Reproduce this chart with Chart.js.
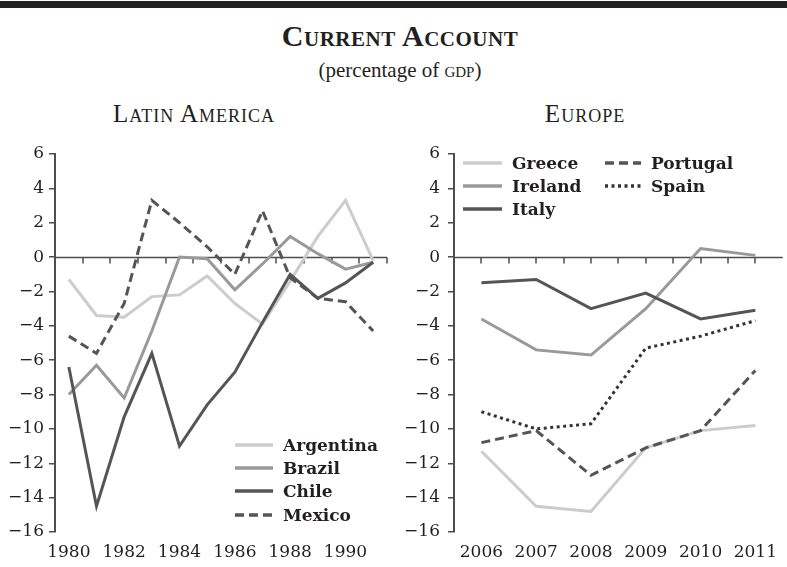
<!DOCTYPE html>
<html>
<head>
<meta charset="utf-8">
<script src="https://cdn.jsdelivr.net/npm/chart.js@4.4.0/dist/chart.umd.min.js"></script>
<style>
  html, body { margin: 0; padding: 0; background: #fff; }
  #page { position: relative; width: 787px; height: 567px; overflow: hidden; color: #231f20; font-family: "Liberation Serif", serif; }
  .bar { position: absolute; left: 0; top: 1px; width: 787px; height: 7px; background: #231f20; }
  .head { position: absolute; text-align: center; font-variant: small-caps; white-space: nowrap; }
  .wrap { position: absolute; top: 140px; height: 427px; }
  .legend { position: absolute; font: bold 17px "DejaVu Serif", serif; color: #231f20; }
  .legend .item { display: flex; align-items: center; height: 23.3px; white-space: nowrap; }
  .legend svg { margin-right: 10px; }
</style>
</head>
<body>
<div id="page">
  <div class="bar"></div>
  <div class="head" style="left:0;width:800px;top:16px;height:40px;line-height:40px;font-weight:bold;font-size:30px;letter-spacing:0.5px;">Current Account</div>
  <div class="head" style="left:0;width:800px;top:56px;height:28px;line-height:28px;font-size:21px;font-variant:normal;">(percentage of <span style="font-variant:small-caps">gdp</span>)</div>
  <div class="head" style="left:94px;width:200px;top:99px;height:30px;line-height:30px;font-size:25px;letter-spacing:1px;">Latin America</div>
  <div class="head" style="left:485px;width:200px;top:99px;height:30px;line-height:30px;font-size:25px;letter-spacing:1px;">Europe</div>

  <div class="wrap" style="left:0;width:392px;"><canvas id="latam" width="392" height="427"></canvas></div>
  <div class="wrap" style="left:400px;width:387px;"><canvas id="europe" width="387" height="427"></canvas></div>

  <div class="legend" id="legLatam" style="left:235px;top:433px;"></div>
  <div class="legend" id="legEu1" style="left:463px;top:151px;"></div>
  <div class="legend" id="legEu2" style="left:605px;top:151px;"></div>
</div>
<script>
// Latin America, 1980-1991
const laYears = [1980, 1981, 1982, 1983, 1984, 1985, 1986, 1987, 1988, 1989, 1990, 1991];
const argentina = [-1.3, -3.4, -3.5, -2.3, -2.2, -1.1, -2.7, -3.9, -1.4, 1.2, 3.3, -0.2];
const brazil    = [-8.0, -6.3, -8.2, -4.3, 0.0, -0.1, -1.9, -0.4, 1.2, 0.2, -0.7, -0.3];
const chile     = [-6.4, -14.5, -9.3, -5.6, -11.0, -8.6, -6.7, -3.8, -1.0, -2.4, -1.5, -0.3];
const mexico    = [-4.6, -5.6, -2.7, 3.3, 2.0, 0.6, -1.0, 2.7, -1.2, -2.4, -2.6, -4.3];
const laNames = ['Argentina', 'Brazil', 'Chile', 'Mexico'];
const laYearLabels = [1980, 1982, 1984, 1986, 1988, 1990];
const laTickMarks = [1980.5, 1981.5, 1982.5, 1983.5, 1984.5, 1985.5, 1986.5, 1987.5, 1988.5, 1989.5, 1990.5, 1991.5];

// Europe, 2006-2011
const euYears = [2006, 2007, 2008, 2009, 2010, 2011];
const greece   = [-11.3, -14.5, -14.8, -11.1, -10.1, -9.8];
const ireland  = [-3.6, -5.4, -5.7, -3.0, 0.5, 0.1];
const italy    = [-1.5, -1.3, -3.0, -2.1, -3.6, -3.1];
const portugal = [-10.8, -10.1, -12.7, -11.1, -10.1, -6.6];
const spain    = [-9.0, -10.0, -9.7, -5.3, -4.6, -3.7];
const euNames = ['Greece', 'Ireland', 'Italy', 'Portugal', 'Spain'];
const euYearLabels = [2006, 2007, 2008, 2009, 2010, 2011];
const euTickMarks = [2006, 2006.5, 2007, 2007.5, 2008, 2008.5, 2009, 2009.5, 2010, 2010.5, 2011];

const yTickValues = [6, 4, 2, 0, -2, -4, -6, -8, -10, -12, -14, -16];

const TEXT = '#231f20';
const AXIS = '#4d4d4d';
const FONT = { family: '"DejaVu Serif", serif', size: 17 };
const styles = {
  light:  { color: '#cccccc', dash: [] },
  mid:    { color: '#999999', dash: [] },
  dark:   { color: '#555555', dash: [] },
  dashed: { color: '#555555', dash: [9, 5] },
  dotted: { color: '#333333', dash: [3, 3.5] }
};

// zero line with small downward tick marks, placed through the chart's own scales
function zeroAxis(marks) {
  return {
    id: 'zeroAxis',
    beforeDatasetsDraw(chart) {
      const ctx = chart.ctx, area = chart.chartArea;
      const x = chart.scales.x, y = chart.scales.y;
      const y0 = Math.round(y.getPixelForValue(0)) + 0.5;
      ctx.save();
      ctx.setLineDash([]);
      ctx.strokeStyle = AXIS;
      ctx.lineWidth = 1.5;
      ctx.beginPath();
      ctx.moveTo(area.left, y0);
      ctx.lineTo(area.right, y0);
      ctx.stroke();
      marks.forEach(v => {
        const px = Math.round(x.getPixelForValue(v));
        ctx.beginPath();
        ctx.moveTo(px, y0);
        ctx.lineTo(px, y0 + 6);
        ctx.stroke();
      });
      ctx.restore();
    }
  };
}

function yScale(pad, width) {
  return {
    min: -16, max: 6,
    afterBuildTicks: s => { s.ticks = yTickValues.map(v => ({ value: v })); },
    afterFit: s => { s.width = width; s.paddingTop = 0; s.paddingBottom = 0; },
    ticks: { color: TEXT, padding: pad, font: FONT, callback: v => v < 0 ? '\u2212' + Math.abs(v) : String(v) },
    grid: { display: true, drawOnChartArea: false, drawTicks: true, tickLength: 6, color: AXIS, lineWidth: 1.5 },
    border: { display: true, color: AXIS, width: 2 }
  };
}

function xLabelScale(min, max, labels) {
  return {
    type: 'linear', position: 'bottom', min: min, max: max,
    afterBuildTicks: s => { s.ticks = labels.map(v => ({ value: v })); },
    afterFit: s => { s.height = 35; },
    ticks: { color: TEXT, padding: 10, maxRotation: 0, autoSkip: false, font: FONT, callback: v => String(v) },
    grid: { display: false, drawTicks: false },
    border: { display: false }
  };
}

function makeDatasets(names, series, looks) {
  return names.map((name, i) => ({
    label: name,
    data: series[i],
    borderColor: styles[looks[i]].color,
    borderDash: styles[looks[i]].dash,
    borderWidth: 3,
    borderJoinStyle: 'miter',
    borderCapStyle: 'butt',
    pointRadius: 0,
    tension: 0,
    fill: false,
    order: names.length - i
  }));
}

function makeChart(id, years, datasets, xMin, xMax, yearLabels, tickMarks, yPad, yWidth, padRight) {
  return new Chart(document.getElementById(id), {
    type: 'line',
    data: { labels: years, datasets: datasets },
    plugins: [zeroAxis(tickMarks)],
    options: {
      responsive: false,
      animation: false,
      devicePixelRatio: 1,
      layout: { padding: { top: 14, right: padRight, bottom: 0, left: 0 } },
      plugins: { legend: { display: false }, tooltip: { enabled: false } },
      scales: {
        x: xLabelScale(xMin, xMax, yearLabels),
        y: yScale(yPad, yWidth)
      }
    }
  });
}

const laLooks = ['light', 'mid', 'dark', 'dashed'];
const euLooks = ['light', 'mid', 'dark', 'dashed', 'dotted'];

makeChart('latam', laYears, makeDatasets(laNames, [argentina, brazil, chile, mexico], laLooks),
  1979.5, 1991.5, laYearLabels, laTickMarks, 5, 55, 5);
makeChart('europe', euYears, makeDatasets(euNames, [greece, ireland, italy, portugal, spain], euLooks),
  2005.5, 2011.5, euYearLabels, euTickMarks, 8, 54, 0);

// HTML legends
function legendItem(name, look, width) {
  const s = styles[look];
  const dash = s.dash.length ? ` stroke-dasharray="${s.dash.join(' ')}"` : '';
  return `<div class="item"><svg width="${width}" height="6"><line x1="0" y1="3" x2="${width}" y2="3" stroke="${s.color}" stroke-width="3.5"${dash}/></svg><span>${name}</span></div>`;
}
document.getElementById('legLatam').innerHTML = laNames.map((n, i) => legendItem(n, laLooks[i], 38)).join('');
document.getElementById('legEu1').innerHTML = euNames.slice(0, 3).map((n, i) => legendItem(n, euLooks[i], 39)).join('');
document.getElementById('legEu2').innerHTML = euNames.slice(3).map((n, i) => legendItem(n, euLooks[i + 3], 36)).join('');
</script>
</body>
</html>
